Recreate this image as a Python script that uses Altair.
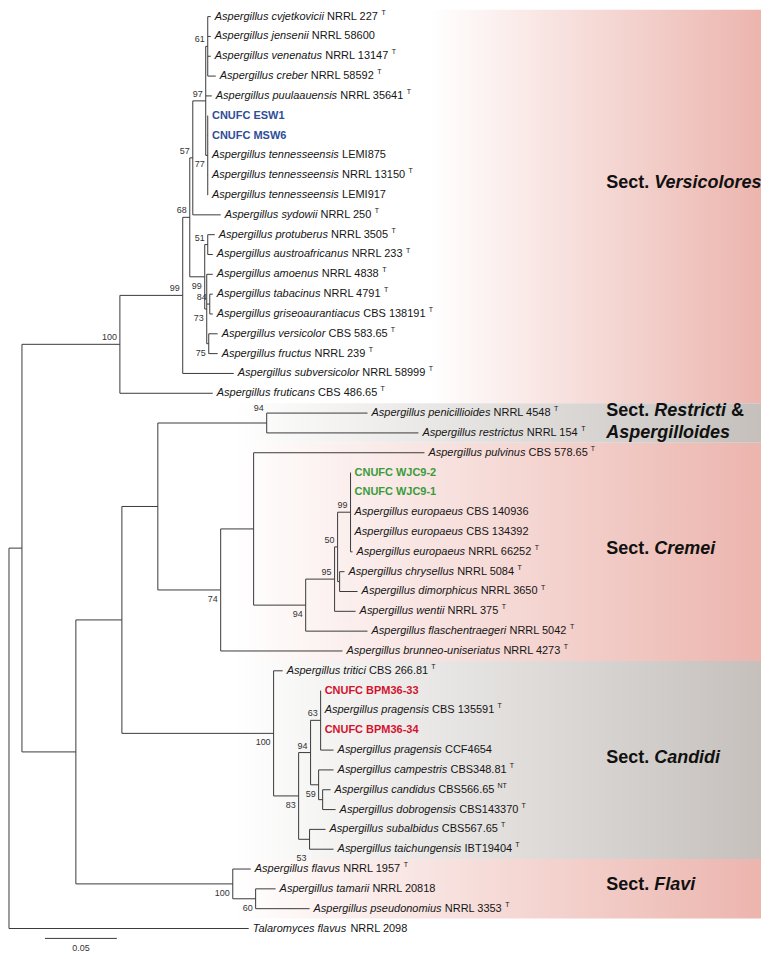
import altair as alt
import pandas as pd

# ------------------------------------------------------------------ data
# Leaves, top to bottom
LEAF_TAXON = [
    "Aspergillus cvjetkovicii", "Aspergillus jensenii", "Aspergillus venenatus", "Aspergillus creber",
    "Aspergillus puulaauensis", "CNUFC ESW1", "CNUFC MSW6", "Aspergillus tennesseensis",
    "Aspergillus tennesseensis", "Aspergillus tennesseensis", "Aspergillus sydowii",
    "Aspergillus protuberus", "Aspergillus austroafricanus", "Aspergillus amoenus",
    "Aspergillus tabacinus", "Aspergillus griseoaurantiacus", "Aspergillus versicolor",
    "Aspergillus fructus", "Aspergillus subversicolor", "Aspergillus fruticans",
    "Aspergillus penicillioides", "Aspergillus restrictus", "Aspergillus pulvinus",
    "CNUFC WJC9-2", "CNUFC WJC9-1", "Aspergillus europaeus", "Aspergillus europaeus",
    "Aspergillus europaeus", "Aspergillus chrysellus", "Aspergillus dimorphicus",
    "Aspergillus wentii", "Aspergillus flaschentraegeri", "Aspergillus brunneo-uniseriatus",
    "Aspergillus tritici", "CNUFC BPM36-33", "Aspergillus pragensis", "CNUFC BPM36-34",
    "Aspergillus pragensis", "Aspergillus campestris", "Aspergillus candidus",
    "Aspergillus dobrogensis", "Aspergillus subalbidus", "Aspergillus taichungensis",
    "Aspergillus flavus", "Aspergillus tamarii", "Aspergillus pseudonomius", "Talaromyces flavus",
]
LEAF_STRAIN = [
    "NRRL 227", "NRRL 58600", "NRRL 13147", "NRRL 58592", "NRRL 35641", "", "", "LEMI875",
    "NRRL 13150", "LEMI917", "NRRL 250", "NRRL 3505", "NRRL 233", "NRRL 4838", "NRRL 4791",
    "CBS 138191", "CBS 583.65", "NRRL 239", "NRRL 58999", "CBS 486.65", "NRRL 4548", "NRRL 154",
    "CBS 578.65", "", "", "CBS 140936", "CBS 134392", "NRRL 66252", "NRRL 5084", "NRRL 3650",
    "NRRL 375", "NRRL 5042", "NRRL 4273", "CBS 266.81", "", "CBS 135591", "", "CCF4654",
    "CBS348.81", "CBS566.65", "CBS143370", "CBS567.65", "IBT19404", "NRRL 1957", "NRRL 20818",
    "NRRL 3353", "NRRL 2098",
]
LEAF_TYPE = [
    "T", "", "T", "T", "T", "", "", "", "T", "", "T", "T", "T", "T", "T", "T", "T", "T", "T", "T",
    "T", "T", "T", "", "", "", "", "T", "T", "T", "T", "T", "T", "T", "", "T", "", "", "T", "NT",
    "T", "T", "T", "T", "", "T", "",
]
# new isolates (bold, coloured)
ISOLATE_COLOR = {"CNUFC ESW1": "#2f4e98", "CNUFC MSW6": "#2f4e98",
                 "CNUFC WJC9-2": "#3a9b3a", "CNUFC WJC9-1": "#3a9b3a",
                 "CNUFC BPM36-33": "#d4122e", "CNUFC BPM36-34": "#d4122e"}
LEAF_PARENT = [
    "V5", "V5", "V5", "V5", "V4", "V77", "V77", "V77", "V77", "V77", "V3", "V51", "V51", "V7",
    "V84", "V84", "V75", "V75", "V1", "V0", "R", "R", "E1", "E5", "E5", "E5", "E5", "E5", "E6",
    "E6", "E3", "E2", "E", "K", "K63", "K63", "K63", "K63", "K59", "K59b", "K59b", "K53", "K53",
    "F", "F60", "F60", "root",
]
# distance from root (substitutions / site)
LEAF_DEPTH = [
    0.1403, 0.1403, 0.1403, 0.1438, 0.1410, 0.1384, 0.1384, 0.1384, 0.1384, 0.1384, 0.1472,
    0.1431, 0.1417, 0.1417, 0.1417, 0.1417, 0.1451, 0.1451, 0.1563, 0.1417, 0.2493, 0.2847,
    0.2889, 0.2375, 0.2375, 0.2375, 0.2375, 0.2389, 0.2333, 0.2424, 0.2410, 0.2493, 0.2319,
    0.1903, 0.2167, 0.2167, 0.2167, 0.2257, 0.2257, 0.2236, 0.2271, 0.2201, 0.2257,
    0.1681, 0.1854, 0.2090, 0.1667,
]

# Internal nodes
NODE_ID = ["root", "A", "V0", "V1", "V2", "V3", "V4", "V5", "V77", "V6", "V51", "V7", "V84", "V75",
           "B", "C", "D", "R", "E", "E1", "E2", "E3", "E4", "E5", "E6",
           "K", "K1", "K2", "K63", "K59", "K59b", "K53", "F", "F60"]
NODE_PARENT = ["", "root", "A", "V0", "V1", "V2", "V3", "V4", "V4", "V2", "V6", "V6", "V7", "V7",
               "A", "B", "C", "D", "D", "E", "E1", "E2", "E3", "E4", "E4",
               "C", "K", "K1", "K2", "K2", "K59", "K1", "B", "F"]
NODE_DEPTH = [0.0, 0.0090, 0.0771, 0.1208, 0.1257, 0.1278, 0.1368, 0.1382, 0.1382, 0.1361,
              0.1382, 0.1375, 0.1396, 0.1389,
              0.0465, 0.0785, 0.1035, 0.1792, 0.1472, 0.1701, 0.2063, 0.2264, 0.2285, 0.2375,
              0.2299, 0.1840, 0.2014, 0.2097, 0.2167, 0.2153, 0.2181, 0.2090, 0.1556, 0.1715]
NODE_SUPPORT = ["", "", "100", "99", "68", "57", "97", "61", "77", "99", "51", "73", "84", "75",
                "", "", "", "94", "74", "", "94", "95", "50", "99", "",
                "100", "83", "94", "63", "59", "", "53", "100", "60"]
SUPPORT_SIDE = ["", "", "above", "above", "above", "above", "above", "above", "below", "below",
                "above", "below", "above", "below",
                "", "", "", "top", "below", "", "below", "above", "above", "above", "",
                "below", "below", "above", "above", "below", "", "bottom", "below", "below"]

# Section bands (row units) and labels
BAND_FROM = [-1.0, 19.5, 21.5, 32.5, 42.5]
BAND_TO = [19.5, 21.5, 32.5, 42.5, 45.5]
BAND_TONE = ["vers", "gray", "pink", "gray", "pink"]
SECTION_ROW = [8.41, 19.9, 21.0, 26.85, 37.38, 43.83]
SECTION_PARTS = [  # (text, italic?)
    [("Sect. ", False), ("Versicolores", True)],
    [("Sect. ", False), ("Restricti", True), (" &", False)],
    [("Aspergilloides", True)],
    [("Sect. ", False), ("Cremei", True)],
    [("Sect. ", False), ("Candidi", True)],
    [("Sect. ", False), ("Flavi", True)],
]
SECTION_X = 0.4153
SCALE_BAR = (0.025, 0.05)   # start, length
SCALE_ROW = 46.5
SCALE_LABEL_ROW = 47.0

# ------------------------------------------------------------------ layout helpers
W, H = 754, 943
PX_PER_UNIT = 1440.0
ROW_PX = 19.85
FONT = "Liberation Sans, Arial, Helvetica, sans-serif"

REG = dict(zip(" -.0123456789&", [278, 333, 278] + [556] * 10 + [667]))
REG.update(dict(zip("ABCDEFGHIJKLMNOPQRSTUVWXYZ",
                    [667, 667, 722, 722, 667, 611, 778, 722, 278, 500, 667, 556, 833, 722, 778,
                     667, 778, 722, 667, 611, 722, 667, 944, 667, 667, 611])))
REG.update(dict(zip("abcdefghijklmnopqrstuvwxyz",
                    [556, 556, 500, 556, 556, 278, 556, 556, 222, 222, 500, 222, 833, 556, 556,
                     556, 556, 333, 500, 278, 556, 500, 722, 500, 500, 500])))
BOLD = dict(zip(" -.0123456789&", [278, 333, 278] + [556] * 10 + [722]))
BOLD.update(dict(zip("ABCDEFGHIJKLMNOPQRSTUVWXYZ",
                     [722, 722, 722, 722, 667, 611, 778, 722, 278, 556, 722, 611, 833, 722, 778,
                      667, 778, 722, 667, 611, 722, 667, 944, 667, 667, 611])))
BOLD.update(dict(zip("abcdefghijklmnopqrstuvwxyz",
                     [556, 611, 556, 611, 556, 333, 611, 611, 278, 278, 556, 278, 889, 611, 611,
                      611, 611, 389, 556, 333, 611, 556, 778, 556, 556, 500])))


def text_px(s, table, size):
    return sum(table.get(ch, 556) for ch in s) * size / 1000.0


def dx(p):
    return p / PX_PER_UNIT


def drow(p):
    return p / ROW_PX


# ------------------------------------------------------------------ tree geometry
depth = dict(zip(NODE_ID, NODE_DEPTH))
parent = dict(zip(NODE_ID, NODE_PARENT))
children = {n: [] for n in NODE_ID}
ypos = {}
for n, p in zip(NODE_ID, NODE_PARENT):
    if p:
        children[p].append(n)
for i, p in enumerate(LEAF_PARENT):
    lid = f"leaf{i}"
    children[p].append(lid)
    depth[lid] = LEAF_DEPTH[i]
    parent[lid] = p
    ypos[lid] = float(i)


def get_y(n):
    if n not in ypos:
        ys = [get_y(c) for c in children[n]]
        ypos[n] = (min(ys) + max(ys)) / 2.0
    return ypos[n]


for n in NODE_ID:
    get_y(n)

segs = []
for n in depth:
    p = parent.get(n)
    if p and depth[n] > depth[p]:
        segs.append(dict(x=depth[p], x2=depth[n], y=ypos[n], y2=ypos[n]))
for n in NODE_ID:
    ys = [ypos[c] for c in children[n]]
    segs.append(dict(x=depth[n], x2=depth[n], y=min(ys), y2=max(ys)))
seg_df = pd.DataFrame(segs)

# leaf labels
ital, reg, sup, iso = [], [], [], []
for i in range(len(LEAF_TAXON)):
    x0 = LEAF_DEPTH[i] + dx(4)
    name, strain, typ = LEAF_TAXON[i], LEAF_STRAIN[i], LEAF_TYPE[i]
    if name in ISOLATE_COLOR:
        iso.append(dict(x=x0, y=i, t=name, c=ISOLATE_COLOR[name]))
        continue
    ital.append(dict(x=x0, y=i, t=name))
    x1 = x0 + dx(text_px(name + " ", REG, 11))
    reg.append(dict(x=x1, y=i, t=strain))
    if typ:
        x2 = x1 + dx(text_px(strain + " ", REG, 11))
        sup.append(dict(x=x2, y=i, t=typ))

# support values
boot = []
for n, s, side in zip(NODE_ID, NODE_SUPPORT, SUPPORT_SIDE):
    if not s:
        continue
    ys = [ypos[c] for c in children[n]]
    if side == "above":
        yy = ypos[n] - drow(7)
    elif side == "below":
        yy = ypos[n] + drow(9)
    elif side == "top":
        yy = min(ys) - drow(5)
    else:
        yy = max(ys) + drow(9)
    boot.append(dict(x=depth[n] - dx(3), y=yy, t=s))

# section labels
sec_up, sec_it = [], []
for row, parts in zip(SECTION_ROW, SECTION_PARTS):
    xx = SECTION_X
    for txt, is_it in parts:
        (sec_it if is_it else sec_up).append(dict(x=xx, y=row, t=txt.strip()))
        lead = len(txt) - len(txt.lstrip())
        if lead:
            (sec_it if is_it else sec_up)[-1]["x"] = xx + dx(text_px(" " * lead, BOLD, 18))
        xx += dx(text_px(txt, BOLD, 18))

bands = pd.DataFrame(dict(y=BAND_FROM, y2=BAND_TO, tone=BAND_TONE))
scale_df = pd.DataFrame([dict(x=SCALE_BAR[0], x2=SCALE_BAR[0] + SCALE_BAR[1], y=SCALE_ROW,
                              y2=SCALE_ROW, xm=SCALE_BAR[0] + SCALE_BAR[1] / 2,
                              ym=SCALE_LABEL_ROW, t=f"{SCALE_BAR[1]:.2f}")])

# ------------------------------------------------------------------ chart
xs = alt.Scale(domain=[-1 / PX_PER_UNIT, (W - 1) / PX_PER_UNIT], nice=False, zero=False)
ys = alt.Scale(domain=[-7 / ROW_PX, (H - 7) / ROW_PX], nice=False, zero=False, reverse=True)
X = alt.X("x:Q", scale=xs, axis=None)
Y = alt.Y("y:Q", scale=ys, axis=None)


def grad(stop_white, color):
    return alt.Gradient(gradient="linear",
                        stops=[alt.GradientStop(color="#ffffff", offset=0),
                               alt.GradientStop(color="#ffffff", offset=stop_white),
                               alt.GradientStop(color=color, offset=1)],
                        x1=0, x2=1, y1=0, y2=0)


def band_layer(tone, gradient):
    return (alt.Chart(bands[bands.tone == tone])
            .mark_rect(fill=gradient, clip=True, strokeWidth=0)
            .encode(x=alt.value(0), x2=alt.value("width"), y=Y, y2="y2:Q"))


layers = [
    band_layer("vers", grad(0.56, "#ecb5ae")),
    band_layer("pink", grad(0.30, "#ecb5ae")),
    band_layer("gray", grad(0.30, "#c5c0bc")),
    alt.Chart(seg_df).mark_rule(color="#3a3a3a", strokeWidth=1).encode(x=X, x2="x2:Q", y=Y, y2="y2:Q"),
    alt.Chart(scale_df).mark_rule(color="#3a3a3a", strokeWidth=1).encode(x=X, x2="x2:Q", y=Y, y2="y2:Q"),
    alt.Chart(scale_df).mark_text(font=FONT, fontSize=9, color="#333333", baseline="middle")
    .encode(x=alt.X("xm:Q", scale=xs, axis=None), y=alt.Y("ym:Q", scale=ys, axis=None), text="t:N"),
    alt.Chart(pd.DataFrame(ital)).mark_text(font=FONT, fontSize=11, fontStyle="italic", color="#151515",
                                            align="left", baseline="middle").encode(x=X, y=Y, text="t:N"),
    alt.Chart(pd.DataFrame(reg)).mark_text(font=FONT, fontSize=11, color="#151515",
                                           align="left", baseline="middle").encode(x=X, y=Y, text="t:N"),
    alt.Chart(pd.DataFrame(sup)).mark_text(font=FONT, fontSize=7, color="#151515", dy=-4,
                                           align="left", baseline="middle").encode(x=X, y=Y, text="t:N"),
    alt.Chart(pd.DataFrame(iso)).mark_text(font=FONT, fontSize=11, fontWeight="bold",
                                           align="left", baseline="middle")
    .encode(x=X, y=Y, text="t:N", color=alt.Color("c:N", scale=None)),
    alt.Chart(pd.DataFrame(boot)).mark_text(font=FONT, fontSize=9, color="#333333",
                                            align="right", baseline="middle").encode(x=X, y=Y, text="t:N"),
    alt.Chart(pd.DataFrame(sec_up)).mark_text(font=FONT, fontSize=18, fontWeight="bold", color="#111111",
                                              align="left", baseline="middle").encode(x=X, y=Y, text="t:N"),
    alt.Chart(pd.DataFrame(sec_it)).mark_text(font=FONT, fontSize=18, fontWeight="bold", fontStyle="italic",
                                              color="#111111", align="left", baseline="middle")
    .encode(x=X, y=Y, text="t:N"),
]

chart = (alt.layer(*layers)
         .properties(width=W, height=H, padding=0, background="#ffffff")
         .configure_view(stroke=None))

chart.save("out.html", embed_options={"renderer": "svg", "actions": False})
